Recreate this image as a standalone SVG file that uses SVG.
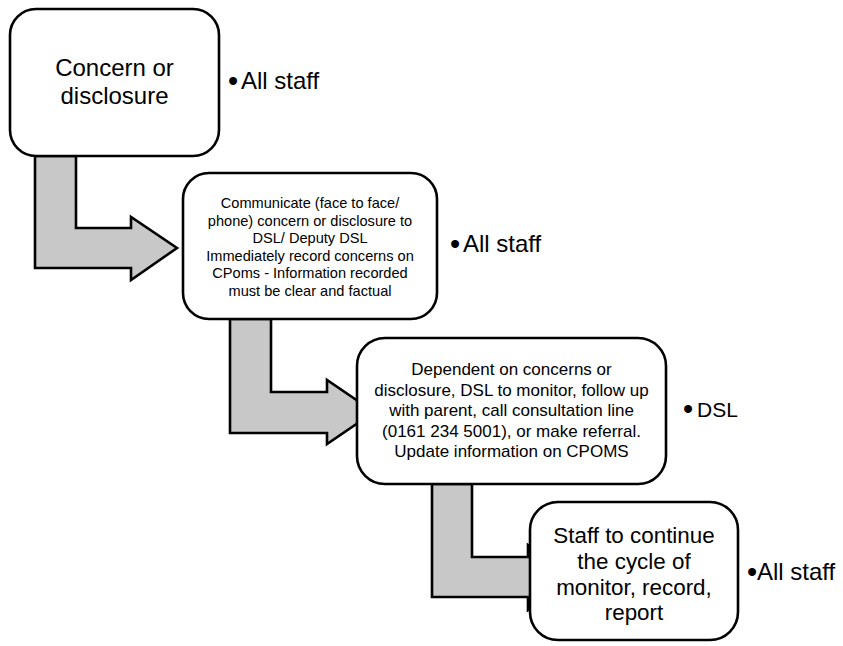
<svg xmlns="http://www.w3.org/2000/svg" width="843" height="646" viewBox="0 0 843 646">
<style>
.box{fill:#ffffff;stroke:#000000;stroke-width:2.6}
.arr{fill:#c8c8c8;stroke:#000000;stroke-width:2.6;stroke-linejoin:miter}
text{font-family:"Liberation Sans",Arial,sans-serif;fill:#000000}
.t1{font-size:24px;text-anchor:middle}
.t2{font-size:14.6px;text-anchor:middle}
.t3{font-size:17px;text-anchor:middle}
.t4{font-size:22.4px;text-anchor:middle}
.lbl{font-size:24px}
.lbld{font-size:21px}
.bul{font-size:29px}
</style>
<rect width="843" height="646" fill="#ffffff"/>
<g id="connectors">
<path class="arr" d="M35,156 L76,156 L76,228 L131,228 L131,217 L177,248 L131,280 L131,268 L35,268 Z"/>
<path class="arr" d="M230,319 L271,319 L271,392 L327,392 L327,380 L374,412 L327,444 L327,433 L230,433 Z"/>
<path class="arr" d="M432,484 L472,484 L472,557 L528,557 L528,545 L574,577 L528,610 L528,597 L432,597 Z"/>
</g>
<g id="node1">
<rect class="box" x="10" y="9" width="209" height="147" rx="26" ry="26"/>
<text class="t1" x="114.5" y="76">Concern or</text>
<text class="t1" x="114.5" y="104">disclosure</text>
<text class="lbl" y="89"><tspan class="bul" x="228" dy="2">•</tspan><tspan x="241" dy="-2">All staff</tspan></text>
</g>
<g id="node2">
<rect class="box" x="183" y="173" width="254" height="146" rx="26" ry="26"/>
<text class="t2" x="310" y="208">Communicate (face to face/</text>
<text class="t2" x="310" y="225.5">phone) concern or disclosure to</text>
<text class="t2" x="310" y="243">DSL/ Deputy DSL</text>
<text class="t2" x="310" y="260.5">Immediately record concerns on</text>
<text class="t2" x="310" y="278">CPoms - Information recorded</text>
<text class="t2" x="310" y="295.5">must be clear and factual</text>
<text class="lbl" y="252"><tspan class="bul" x="450" dy="2">•</tspan><tspan x="463" dy="-2">All staff</tspan></text>
</g>
<g id="node3">
<rect class="box" x="357" y="338" width="309" height="146" rx="28" ry="28"/>
<text class="t3" x="511.5" y="375">Dependent on concerns or</text>
<text class="t3" x="511.5" y="396">disclosure, DSL to monitor, follow up</text>
<text class="t3" x="511.5" y="416">with parent, call consultation line</text>
<text class="t3" x="511.5" y="437">(0161 234 5001), or make referral.</text>
<text class="t3" x="511.5" y="457">Update information on CPOMS</text>
<text class="lbld" y="417"><tspan class="bul" x="683" dy="2">•</tspan><tspan x="697" dy="-2">DSL</tspan></text>
</g>
<g id="node4">
<rect class="box" x="530" y="502" width="208" height="138" rx="28" ry="28"/>
<text class="t4" x="634" y="543">Staff to continue</text>
<text class="t4" x="634" y="569">the cycle of</text>
<text class="t4" x="634" y="595">monitor, record,</text>
<text class="t4" x="634" y="620">report</text>
<text class="lbl" y="580"><tspan class="bul" x="747" dy="2">•</tspan><tspan x="757" dy="-2">All staff</tspan></text>
</g>
</svg>
